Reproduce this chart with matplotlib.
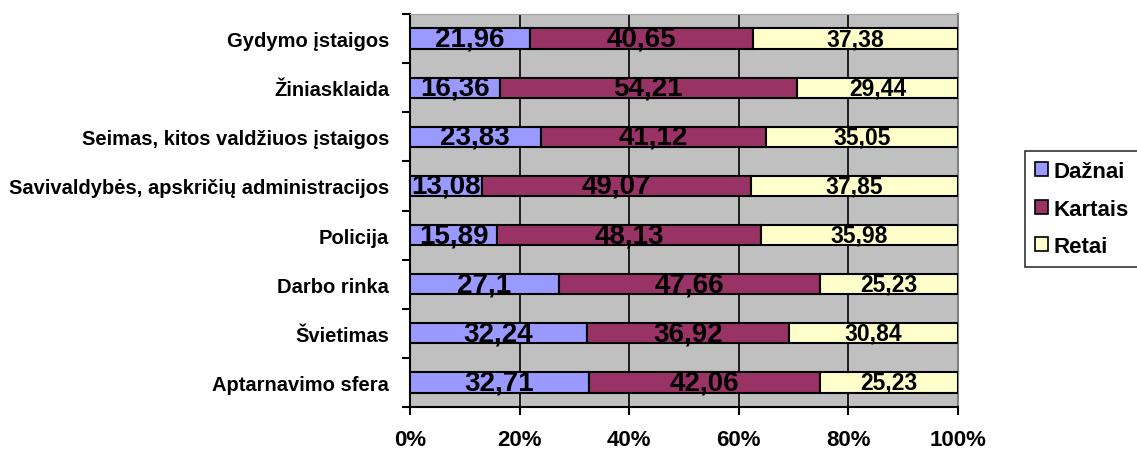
import numpy as np
import matplotlib.pyplot as plt

plt.rcParams['font.family'] = ['Liberation Sans', 'DejaVu Sans']
plt.rcParams['font.weight'] = 'bold'

categories = ['Gydymo įstaigos', 'Žiniasklaida', 'Seimas, kitos valdžiuos įstaigos',
              'Savivaldybės, apskričių administracijos', 'Policija', 'Darbo rinka',
              'Švietimas', 'Aptarnavimo sfera']
dazhnai = [21.96, 16.36, 23.83, 13.08, 15.89, 27.1, 32.24, 32.71]
kartais = [40.65, 54.21, 41.12, 49.07, 48.13, 47.66, 36.92, 42.06]
retai = [37.38, 29.44, 35.05, 37.85, 35.98, 25.23, 30.84, 25.23]
series_names = ['Dažnai', 'Kartais', 'Retai']
colors = ['#9999FF', '#993366', '#FFFFCC']
label_sizes = [20, 20, 16.5]


def fmt(v):
    return ('%g' % v).replace('.', ',')


fig = plt.figure(figsize=(11.37, 4.52), dpi=100)
ax = fig.add_axes([0.3606, 0.0973, 0.482, 0.8695])
ax.set_facecolor('#C0C0C0')

y = np.arange(len(categories))[::-1]
left = np.zeros(len(categories))
for vals, name, col, fs in zip([dazhnai, kartais, retai], series_names, colors, label_sizes):
    vals = np.array(vals)
    ax.barh(y, vals, left=left, height=0.41, color=col, edgecolor='black',
            linewidth=1.5, label=name, zorder=3)
    for yi, l, v in zip(y, left, vals):
        ax.text(l + v / 2, yi, fmt(v), ha='center', va='center',
                fontsize=fs, fontweight='bold', zorder=4)
    left = left + vals

ax.set_xlim(0, 100)
ax.set_ylim(-0.5, len(categories) - 0.5)
ax.set_xticks(np.arange(0, 101, 20))
ax.set_xticklabels(['%d%%' % t for t in range(0, 101, 20)], fontsize=16, fontweight='bold')
ax.tick_params(axis='x', length=6, width=1.5, pad=10)
ax.xaxis.grid(True, color='black', linewidth=1.2, zorder=1)
ax.set_axisbelow(True)

ax.set_yticks(y)
ax.set_yticklabels(categories, fontsize=14.5, fontweight='bold')
ax.tick_params(axis='y', length=0, pad=15)
ax.set_yticks(np.arange(-0.5, len(categories), 1), minor=True)
ax.tick_params(axis='y', which='minor', length=6, width=1.5)

ax.spines['left'].set_linewidth(1.5)
ax.spines['bottom'].set_linewidth(1.5)
ax.spines['top'].set_color('#A0A0A0')
ax.spines['right'].set_color('#808080')
ax.spines['right'].set_linewidth(1.5)

leg = fig.legend(loc='upper left', bbox_to_anchor=(0.9015, 0.664), frameon=True,
                 fancybox=False, edgecolor='black', handlelength=0.6, handleheight=0.6,
                 handletextpad=0.25, labelspacing=0.75, borderpad=0.45, borderaxespad=0,
                 prop={'size': 16, 'weight': 'bold'})
leg.get_frame().set_linewidth(1.2)
for h in leg.legend_handles:
    h.set_linewidth(1.2)

fig.savefig('out.png', dpi=100)
